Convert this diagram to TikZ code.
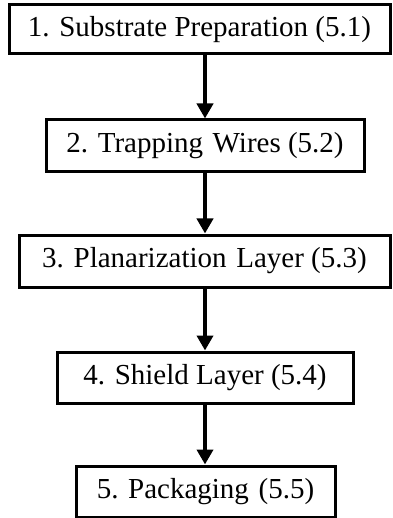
\documentclass[tikz,border=0pt]{standalone}
\usepackage{fontspec}
\setmainfont{Liberation Serif}
\usetikzlibrary{arrows.meta}
\begin{document}
\begin{tikzpicture}[x=1pt,y=-1pt,
  stepbox/.style={draw=black, line width=3pt, inner sep=0pt, minimum height=50pt,
    font=\fontsize{29}{34}\selectfont, fill=white},
  flow/.style={line width=4pt, -{Triangle[width=16pt,length=15pt]}}]
\useasboundingbox (0,0) rectangle (392,518);
\node[stepbox, minimum width=381pt, minimum height=49pt] (b1) at (199.5,29.5) {1. Substrate Preparation (5.1)};
\node[stepbox, minimum width=318pt, minimum height=52pt] (b2) at (205,146) {2. Trapping\,\,Wires (5.2)};
\node[stepbox, minimum width=371pt, minimum height=52pt] (b3) at (204.5,261) {3. Planarization\,\,Layer (5.3)};
\node[stepbox, minimum width=296pt, minimum height=51pt] (b4) at (205,377.5) {4. Shield Layer (5.4)};
\node[stepbox, minimum width=259pt, minimum height=51pt] (b5) at (205.5,491.5) {5. Packaging\,\,(5.5)};
\draw[flow] (b1.south -| b2.north) -- (b2.north);
\draw[flow] (b2.south) -- (b3.north -| b2.south);
\draw[flow] (b3.south -| b2.south) -- (b4.north -| b2.south);
\draw[flow] (b4.south -| b2.south) -- (b5.north -| b2.south);
\end{tikzpicture}
\end{document}
